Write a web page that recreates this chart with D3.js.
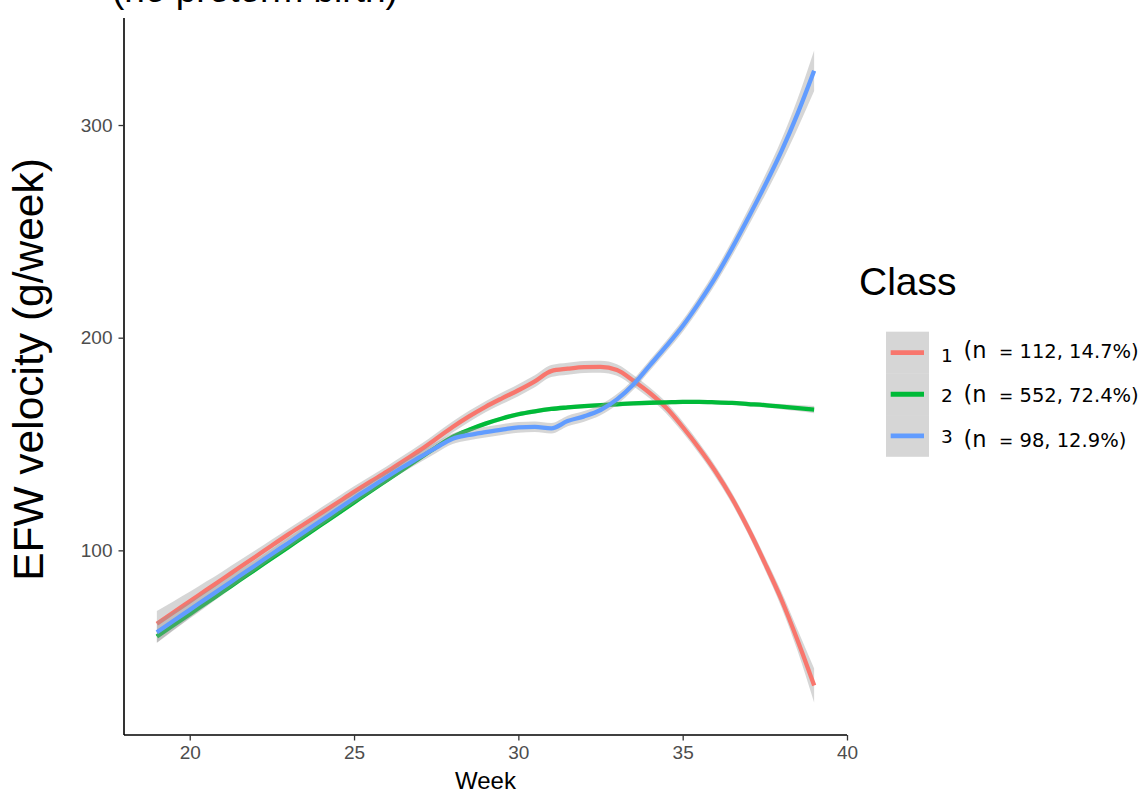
<!DOCTYPE html>
<html>
<head>
<meta charset="utf-8">
<script src="https://cdn.jsdelivr.net/npm/d3@7"></script>
<style>
  html, body { margin: 0; padding: 0; background: #ffffff; }
  svg { display: block; font-family: "Liberation Sans", Arial, Helvetica, sans-serif; }
  .legend-label { font-family: "DejaVu Sans", Verdana, sans-serif; }
</style>
</head>
<body>
<svg id="chart" width="1148" height="793"></svg>
<script>
// Gestational week grid shared by the three fitted trajectories
const weeks = [19, 19.5, 20, 20.5, 21, 21.5, 22, 22.5, 23, 23.5, 24, 24.5, 25, 25.5, 26, 26.5,
  27, 27.5, 28, 28.5, 29, 29.5, 30, 30.5, 31, 31.5, 32, 32.5, 33, 33.5, 34, 34.5, 35, 35.5,
  36, 36.5, 37, 37.5, 38, 38.5, 39];

// Fitted EFW velocity (g/week) per latent class
const class1 = [65.5, 70.8, 76, 81.3, 86.5, 91.8, 97, 102.3, 107.5, 112.5, 117.5, 122.5, 127.5, 132.3,
  137, 142, 147, 152.5, 158, 163, 167.5, 171.5, 175.3, 179.5, 184.3, 185.4, 186.2, 186.3, 184.8,
  179.8, 174, 167, 158, 148, 137, 124.5, 110, 94, 77, 57.5, 36.5];
const class2 = [59.5, 64.8, 70, 75.3, 80.5, 85.8, 91, 96.3, 101.5, 106.8, 112, 117.2, 122.5, 127.8,
  133, 138.2, 143.3, 148.5, 153.3, 156.7, 159.6, 162, 164, 165.4, 166.5, 167.2, 167.8, 168.3, 168.7,
  169.1, 169.4, 169.6, 169.8, 169.8, 169.6, 169.3, 168.8, 168.3, 167.6, 166.9, 166.2];
const class3 = [61.5, 66.8, 72, 77.3, 82.5, 87.8, 93, 98.3, 103.5, 108.8, 114, 119.3, 124.5, 129.5,
  134.5, 139.3, 143.8, 148.3, 152.5, 154.3, 155.6, 156.8, 157.8, 158.1, 157.4, 160.8, 163, 166, 171,
  178, 187, 196, 205.5, 216.5, 228.5, 242, 256.5, 271.5, 287.5, 305.5, 325.5];

// Half-width of the confidence band around each fit (g/week)
const band1 = [6, 5.2, 4.5, 4, 3.6, 3.3, 3, 2.8, 2.7, 2.6, 2.6, 2.6, 2.6, 2.6, 2.6, 2.6, 2.6, 2.6,
  2.6, 2.6, 2.6, 2.7, 2.8, 2.8, 2.8, 2.8, 2.8, 2.8, 2.7, 2.6, 2.6, 2.6, 2.6, 2.6, 2.6, 2.6, 2.7,
  3, 3.6, 5, 8];
const band2 = [3, 2.5, 2.1, 1.8, 1.5, 1.3, 1.2, 1.1, 1, 1, 1, 1, 1, 1, 1, 1, 1, 1, 1, 1, 1, 1, 1, 1,
  1, 1, 1, 1, 1, 1, 1, 1, 1, 1, 1, 1, 1.1, 1.1, 1.2, 1.4, 1.7];
const band3 = [5, 4.3, 3.7, 3.3, 3, 2.8, 2.6, 2.5, 2.5, 2.5, 2.5, 2.5, 2.5, 2.5, 2.5, 2.5, 2.5, 2.5,
  2.5, 2.5, 2.5, 2.5, 2.5, 2.5, 2.5, 2.5, 2.5, 2.5, 2.5, 2.5, 2.5, 2.6, 2.8, 3, 3.3, 3.6, 4, 4.6,
  5.5, 7, 9.5];

const classNames = ["1", "2", "3"];
const classN = ["112", "552", "98"];
const classPct = ["14.7%", "72.4%", "12.9%"];
const colors = ["#F8766D", "#00BA38", "#619CFF"];

const xTicks = [20, 25, 30, 35, 40];
const yTicks = [100, 200, 300];

const titleText = "(no preterm birth)";
const xTitle = "Week";
const yTitle = "EFW velocity (g/week)";
const legendTitle = "Class";

// ---- layout ----
const panel = { left: 124, right: 847, top: 18, bottom: 735 };

const series = [class1, class2, class3].map((fit, k) => {
  const se = [band1, band2, band3][k];
  return weeks.map((w, i) => ({ w, fit: fit[i], lo: fit[i] - se[i], hi: fit[i] + se[i] }));
});

// ggplot-style 5% expansion of the data range
const xExt = d3.extent(weeks);
const xPad = (xExt[1] - xExt[0]) * 0.05;
const allLo = d3.min(series.flat(), d => d.lo);
const allHi = d3.max(series.flat(), d => d.hi);
const yPad = (allHi - allLo) * 0.05;

const x = d3.scaleLinear().domain([xExt[0] - xPad, xExt[1] + xPad]).range([panel.left, panel.right]);
const y = d3.scaleLinear().domain([allLo - yPad, allHi + yPad]).range([panel.bottom, panel.top]);

const svg = d3.select("#chart");

// ---- fitted curves with confidence ribbons ----
const area = d3.area().x(d => x(d.w)).y0(d => y(d.lo)).y1(d => y(d.hi)).curve(d3.curveMonotoneX);
const line = d3.line().x(d => x(d.w)).y(d => y(d.fit)).curve(d3.curveMonotoneX);

const plot = svg.append("g");
series.forEach((s, k) => {
  plot.append("path").attr("d", area(s)).attr("fill", "#999999").attr("fill-opacity", 0.4);
  plot.append("path").attr("d", line(s)).attr("fill", "none")
    .attr("stroke", colors[k]).attr("stroke-width", 4.3);
});

// ---- axes ----
const xAxis = svg.append("g").attr("transform", `translate(0,${panel.bottom})`)
  .call(d3.axisBottom(x).tickValues(xTicks).tickSize(5.5).tickPadding(5).tickSizeOuter(0));
const yAxis = svg.append("g").attr("transform", `translate(${panel.left},0)`)
  .call(d3.axisLeft(y).tickValues(yTicks).tickSize(5.5).tickPadding(6).tickSizeOuter(0));

[xAxis, yAxis].forEach(g => {
  g.attr("font-family", null).attr("font-size", null);
  g.select(".domain").attr("stroke", "#000").attr("stroke-width", 1.6);
  g.selectAll(".tick line").attr("stroke", "#333333").attr("stroke-width", 1.3);
  g.selectAll(".tick text").attr("fill", "#4d4d4d").style("font-size", "19px");
});
// extend the axis lines to cover the whole panel
xAxis.select(".domain").attr("d", `M${panel.left},0H${panel.right}`);
yAxis.select(".domain").attr("d", `M0,${panel.top}V${panel.bottom}`);

// ---- titles ----
svg.append("text").attr("x", 112).attr("y", 1.5).style("font-size", "37px").attr("fill", "#000")
  .text(titleText);

svg.append("text").attr("x", (panel.left + panel.right) / 2).attr("y", 789)
  .attr("text-anchor", "middle").style("font-size", "24px").attr("fill", "#000").text(xTitle);

svg.append("text")
  .attr("transform", `translate(43,${(panel.top + panel.bottom) / 2 - 7}) rotate(-90)`)
  .attr("text-anchor", "middle").style("font-size", "42.5px").attr("fill", "#000").text(yTitle);

// ---- legend ----
const legend = svg.append("g");
legend.append("text").attr("x", 859).attr("y", 295).style("font-size", "39px").attr("fill", "#000")
  .text(legendTitle);

const keyX = 886, keyW = 43, keyTop = 331.7, keyH = 41.7;
const digitShift = [3.4, 0, -3.4];
classNames.forEach((name, k) => {
  const cy = keyTop + keyH * k + keyH / 2;
  legend.append("rect").attr("x", keyX).attr("y", keyTop + keyH * k).attr("width", keyW)
    .attr("height", keyH).attr("fill", "#999999").attr("fill-opacity", 0.4);
  legend.append("line").attr("x1", keyX + 4.7).attr("x2", keyX + 38).attr("y1", cy).attr("y2", cy)
    .attr("stroke", colors[k]).attr("stroke-width", 4.8);

  const base = [358.3, 401.7, 446.7][k];
  const lab = legend.append("text").attr("class", "legend-label").attr("fill", "#000");
  lab.append("tspan").attr("x", 941).attr("y", base + digitShift[k]).style("font-size", "18.5px")
    .text(name);
  lab.append("tspan").attr("x", 963.5).attr("y", base).style("font-size", "22.5px").text("(n");
  lab.append("tspan").attr("x", 999).attr("y", base).style("font-size", "17px").text("=");
  lab.append("tspan").attr("x", 1019.5).attr("y", base).style("font-size", "19.5px")
    .text(`${classN[k]}, ${classPct[k]})`);
});
</script>
</body>
</html>
